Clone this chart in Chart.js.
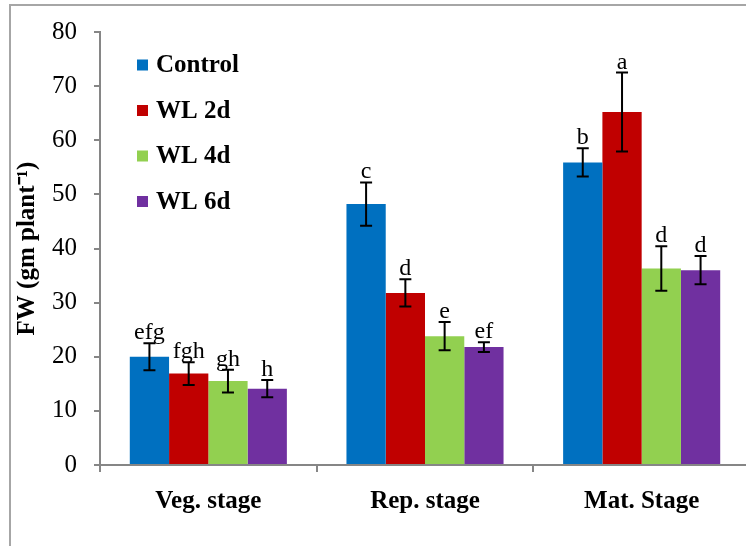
<!DOCTYPE html>
<html>
<head>
<meta charset="utf-8">
<script src="https://cdn.jsdelivr.net/npm/chart.js@4.4.0/dist/chart.umd.min.js"></script>
<style>
  html, body { margin: 0; padding: 0; overflow: hidden; background: #fff; }
  #wrap { width: 750px; height: 546px; }
</style>
</head>
<body>
<div id="wrap"><canvas id="fw-chart" width="750" height="546"></canvas></div>
<script>
// data
const stages = ["Veg. stage", "Rep. stage", "Mat. Stage"];
const seriesNames = ["Control", "WL 2d", "WL 4d", "WL 6d"];
const seriesColors = ["#0070C0", "#C00000", "#92D050", "#7030A0"];

const controlFW = [20.0, 48.2, 55.9];
const wl2dFW = [16.9, 31.8, 65.2];
const wl4dFW = [15.5, 23.8, 36.3];
const wl6dFW = [14.1, 21.8, 36.0];

const controlErr = [2.5, 4.0, 2.6];
const wl2dErr = [2.1, 2.5, 7.3];
const wl4dErr = [2.1, 2.6, 4.1];
const wl6dErr = [1.6, 0.9, 2.6];

const controlLetters = ["efg", "c", "b"];
const wl2dLetters = ["fgh", "d", "a"];
const wl4dLetters = ["gh", "e", "d"];
const wl6dLetters = ["h", "ef", "d"];

const yTicks = [0, 10, 20, 30, 40, 50, 60, 70, 80];

const values = [controlFW, wl2dFW, wl4dFW, wl6dFW];
const errors = [controlErr, wl2dErr, wl4dErr, wl6dErr];
const letters = [controlLetters, wl2dLetters, wl4dLetters, wl6dLetters];

const serif = "'Liberation Serif', 'Times New Roman', serif";
const axisGray = "#868686";

// gray frame around the figure
const framePlugin = {
  id: "frame",
  beforeDraw(chart) {
    const ctx = chart.ctx;
    ctx.save();
    ctx.strokeStyle = "#a6a6a6";
    ctx.lineWidth = 2;
    ctx.beginPath();
    ctx.moveTo(10, chart.height + 2);
    ctx.lineTo(10, 5);
    ctx.lineTo(chart.width + 2, 5);
    ctx.stroke();
    ctx.restore();
  }
};

// error bars and letter labels
const errorPlugin = {
  id: "errorBars",
  afterDatasetsDraw(chart) {
    const ctx = chart.ctx;
    const y = chart.scales.y;
    ctx.save();
    ctx.strokeStyle = "#000";
    ctx.lineWidth = 2;
    ctx.fillStyle = "#000";
    ctx.font = "24px " + serif;
    ctx.textAlign = "center";
    ctx.textBaseline = "alphabetic";
    chart.data.datasets.forEach((ds, i) => {
      const meta = chart.getDatasetMeta(i);
      meta.data.forEach((bar, j) => {
        const v = ds.data[j];
        const e = errors[i][j];
        const top = y.getPixelForValue(v + e);
        const bot = y.getPixelForValue(v - e);
        const x = bar.x;
        ctx.beginPath();
        ctx.moveTo(x, top);
        ctx.lineTo(x, bot);
        ctx.moveTo(x - 6, top);
        ctx.lineTo(x + 6, top);
        ctx.moveTo(x - 6, bot);
        ctx.lineTo(x + 6, bot);
        ctx.stroke();
        ctx.fillText(letters[i][j], x, top - 4);
      });
    });
    ctx.restore();
  }
};

// vertical legend inside the plot
const legendPlugin = {
  id: "innerLegend",
  afterDraw(chart) {
    const ctx = chart.ctx;
    ctx.save();
    ctx.font = "bold 25px " + serif;
    ctx.textBaseline = "middle";
    ctx.textAlign = "left";
    chart.data.datasets.forEach((ds, i) => {
      const cy = 65 + i * 45.5;
      ctx.fillStyle = ds.backgroundColor;
      ctx.fillRect(137, cy - 5.5, 11, 11);
      ctx.fillStyle = "#000";
      ctx.fillText(ds.label, 156, cy + 1);
    });
    ctx.restore();
  }
};

const datasets = seriesNames.map((name, i) => ({
  label: name,
  data: values[i],
  backgroundColor: seriesColors[i],
  borderWidth: 0,
  barPercentage: 1,
  categoryPercentage: 0.725,
}));

new Chart(document.getElementById("fw-chart").getContext("2d"), {
  type: "bar",
  data: { labels: stages, datasets: datasets },
  plugins: [framePlugin, errorPlugin, legendPlugin],
  options: {
    responsive: false,
    animation: false,
    layout: { padding: { top: 32, left: 0, right: 0, bottom: 0 } },
    plugins: {
      legend: { display: false },
      tooltip: { enabled: false },
    },
    scales: {
      x: {
        grid: {
          drawOnChartArea: false,
          drawTicks: true,
          tickLength: 7,
          color: axisGray,
          lineWidth: 2,
          offset: true,
        },
        border: { display: true, color: axisGray, width: 2 },
        ticks: {
          color: "#000",
          padding: 15,
          font: { family: serif, size: 25, weight: "bold" },
        },
        afterFit(scale) { scale.height = 81; },
      },
      y: {
        min: 0,
        max: 80,
        afterBuildTicks(scale) { scale.ticks = yTicks.map(v => ({ value: v })); },
        grid: {
          drawOnChartArea: false,
          drawTicks: true,
          tickLength: 6,
          color: axisGray,
          lineWidth: 2,
        },
        border: { display: true, color: axisGray, width: 2 },
        ticks: {
          color: "#000",
          padding: 17,
          font: { family: serif, size: 25 },
        },
        title: {
          display: true,
          text: "FW (gm plant\u207B\u00B9)",
          color: "#000",
          font: { family: serif, size: 25, weight: "bold" },
          padding: { top: 13, bottom: 0 },
        },
        afterFit(scale) { scale.width = 100; },
      },
    },
  },
});
</script>
</body>
</html>
